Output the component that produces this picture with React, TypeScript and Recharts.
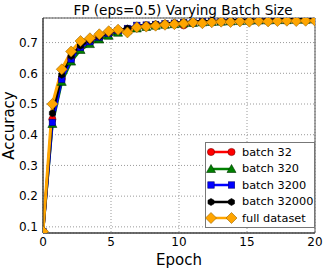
import { LineChart, Line, XAxis, YAxis, CartesianGrid, Legend, ReferenceArea } from 'recharts';

const FONT = '"DejaVu Sans", sans-serif';

// evaluation points (epochs)
const epochs = [
  0, 0.69, 1.38, 2.07, 2.76, 3.45, 4.14, 4.83, 5.52, 6.21,
  6.9, 7.59, 8.28, 8.97, 9.66, 10.34, 11.03, 11.72, 12.41, 13.1,
  13.79, 14.48, 15.17, 15.86, 16.55, 17.24, 17.93, 18.62, 19.31, 20,
];

const batch32 = [
  0.085, 0.45, 0.582, 0.648, 0.684, 0.702, 0.716, 0.727, 0.736, 0.742,
  0.748, 0.752, 0.755, 0.758, 0.76, 0.756, 0.763, 0.765, 0.767, 0.768,
  0.769, 0.77, 0.771, 0.772, 0.772, 0.773, 0.773, 0.774, 0.774, 0.775,
];
const batch320 = [
  0.085, 0.435, 0.572, 0.638, 0.676, 0.695, 0.71, 0.722, 0.732, 0.74,
  0.746, 0.751, 0.755, 0.758, 0.76, 0.762, 0.764, 0.766, 0.767, 0.768,
  0.769, 0.77, 0.771, 0.772, 0.772, 0.773, 0.773, 0.774, 0.774, 0.775,
];
const batch3200 = [
  0.085, 0.44, 0.58, 0.646, 0.684, 0.703, 0.718, 0.73, 0.739, 0.746,
  0.756, 0.757, 0.759, 0.761, 0.763, 0.765, 0.766, 0.768, 0.769, 0.77,
  0.771, 0.772, 0.772, 0.773, 0.773, 0.774, 0.774, 0.775, 0.775, 0.775,
];
const batch32000 = [
  0.085, 0.47, 0.595, 0.656, 0.69, 0.707, 0.72, 0.732, 0.74, 0.746,
  0.752, 0.757, 0.76, 0.762, 0.764, 0.766, 0.768, 0.769, 0.77, 0.771,
  0.772, 0.773, 0.774, 0.774, 0.775, 0.775, 0.776, 0.776, 0.776, 0.777,
];
const fullDataset = [
  0.085, 0.5, 0.613, 0.671, 0.705, 0.714, 0.727, 0.737, 0.742, 0.733,
  0.75, 0.752, 0.755, 0.758, 0.76, 0.762, 0.765, 0.763, 0.766, 0.768,
  0.767, 0.769, 0.768, 0.77, 0.769, 0.77, 0.771, 0.77, 0.771, 0.771,
];

const xTicks = [0, 5, 10, 15, 20];
const yTicks = [0.1, 0.2, 0.3, 0.4, 0.5, 0.6, 0.7];

type MarkerKind = 'circle' | 'triangle' | 'square' | 'hexagon' | 'diamond';

const seriesList: { key: string; name: string; color: string; edge: string; marker: MarkerKind; values: number[] }[] = [
  { key: 'b32', name: 'batch 32', color: '#ff0000', edge: '#7a0000', marker: 'circle', values: batch32 },
  { key: 'b320', name: 'batch 320', color: '#008000', edge: '#003300', marker: 'triangle', values: batch320 },
  { key: 'b3200', name: 'batch 3200', color: '#0000ff', edge: '#00007a', marker: 'square', values: batch3200 },
  { key: 'b32000', name: 'batch 32000', color: '#000000', edge: '#000000', marker: 'hexagon', values: batch32000 },
  { key: 'full', name: 'full dataset', color: '#ffa500', edge: '#9a6400', marker: 'diamond', values: fullDataset },
];

const data = epochs.map((epoch, i) => {
  const row: Record<string, number> = { epoch };
  seriesList.forEach((s) => {
    row[s.key] = s.values[i];
  });
  return row;
});

function marker(kind: MarkerKind, cx: number, cy: number, fill: string, edge: string, key?: string) {
  const common = { fill, stroke: edge, strokeWidth: 0.6 };
  switch (kind) {
    case 'circle':
      return <circle key={key} cx={cx} cy={cy} r={3.6} {...common} />;
    case 'triangle':
      return <polygon key={key} points={`${cx},${cy - 4.5} ${cx + 4.5},${cy + 3.5} ${cx - 4.5},${cy + 3.5}`} {...common} />;
    case 'square':
      return <rect key={key} x={cx - 3.2} y={cy - 3.2} width={6.4} height={6.4} {...common} />;
    case 'hexagon': {
      const pts = [0, 1, 2, 3, 4, 5]
        .map((k) => {
          const a = (Math.PI / 3) * k - Math.PI / 2;
          return `${cx + 3.5 * Math.cos(a)},${cy + 3.5 * Math.sin(a)}`;
        })
        .join(' ');
      return <polygon key={key} points={pts} {...common} />;
    }
    default:
      return <polygon key={key} points={`${cx},${cy - 5.5} ${cx + 5.5},${cy} ${cx},${cy + 5.5} ${cx - 5.5},${cy}`} {...common} />;
  }
}

const renderLegend = () => (
  <div
    style={{
      border: '1px solid #777',
      background: '#fff',
      boxSizing: 'border-box',
      width: 110,
      height: 86,
      padding: '1px 0 0 0',
      fontFamily: FONT,
      fontSize: 11.3,
      color: '#000',
    }}
  >
    {seriesList.map((s) => (
      <div key={s.key} style={{ display: 'flex', alignItems: 'center', height: 16.5 }}>
        <svg width={31} height={14} style={{ overflow: 'visible' }}>
          <line x1={5} x2={25.5} y1={7} y2={7} stroke={s.color} strokeWidth={2.5} />
          {marker(s.marker, 5, 7, s.color, s.edge)}
          {marker(s.marker, 25.5, 7, s.color, s.edge)}
        </svg>
        <span style={{ marginLeft: 5, whiteSpace: 'nowrap' }}>{s.name}</span>
      </div>
    ))}
  </div>
);

export default function App() {
  return (
    <div style={{ position: 'absolute', left: 0, top: 0, width: 326, height: 270, background: '#fff' }}>
      <div
        style={{
          position: 'absolute',
          left: 0,
          top: 3,
          width: 366,
          textAlign: 'center',
          fontFamily: FONT,
          fontSize: 13.6,
          lineHeight: '14px',
          color: '#000',
          zIndex: 2,
        }}
      >
        FP (eps=0.5) Varying Batch Size
      </div>
      <LineChart
        width={326}
        height={270}
        data={data}
        margin={{ top: 18, right: 11, bottom: 0, left: 0 }}
        style={{ fontFamily: FONT }}
      >
        <CartesianGrid stroke="#9a9a9a" strokeDasharray="1 2" />
        <XAxis
          type="number"
          dataKey="epoch"
          domain={[0, 20]}
          ticks={xTicks}
          allowDataOverflow
          height={37}
          tickLine={false}
          tickSize={3}
          tickMargin={1}
          axisLine={{ stroke: '#333' }}
          tick={{ fill: '#000', fontSize: 12 }}
          label={{ value: 'Epoch', position: 'insideBottom', offset: 5, fill: '#000', fontSize: 15 }}
        />
        <YAxis
          type="number"
          domain={[0.08, 0.78]}
          ticks={yTicks}
          allowDataOverflow
          width={43}
          tickLine={false}
          tickSize={3}
          tickMargin={2}
          axisLine={{ stroke: '#333' }}
          tick={{ fill: '#000', fontSize: 12 }}
          tickFormatter={(v: number) => v.toFixed(1)}
          label={{
            value: 'Accuracy',
            angle: -90,
            position: 'insideLeft',
            offset: 9,
            fill: '#000',
            fontSize: 15,
            style: { textAnchor: 'middle' },
          }}
        />
        <ReferenceArea x1={0} x2={20} y1={0.08} y2={0.78} fill="none" stroke="#555" strokeWidth={1} />
        {seriesList.map((s) => (
          <Line
            key={s.key}
            type="linear"
            dataKey={s.key}
            name={s.name}
            stroke={s.color}
            strokeWidth={s.key === 'full' ? 3 : 2.7}
            isAnimationActive={false}
            dot={(p: any) => marker(s.marker, p.cx, p.cy, s.color, s.edge, `${s.key}-${p.index}`)}
            activeDot={false}
          />
        ))}
        <Legend
          layout="vertical"
          align="center"
          verticalAlign="middle"
          content={renderLegend}
          wrapperStyle={{ left: 205, top: 142, right: 'auto', bottom: 'auto', width: 110, height: 86 }}
        />
      </LineChart>
    </div>
  );
}
